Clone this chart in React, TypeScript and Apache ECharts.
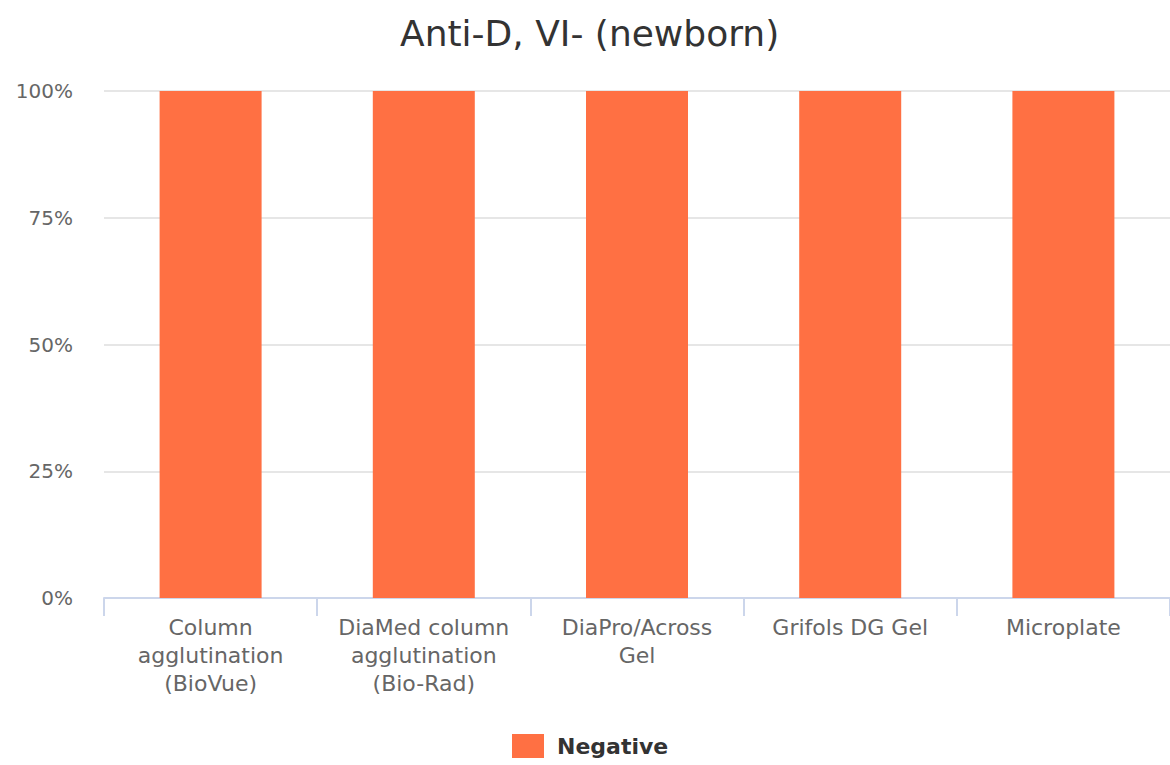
import React, { useEffect, useRef } from "react";
import * as echarts from "echarts";

const categories = [
  "Column\nagglutination\n(BioVue)",
  "DiaMed column\nagglutination\n(Bio-Rad)",
  "DiaPro/Across\nGel",
  "Grifols DG Gel",
  "Microplate",
];
const negativeValues = [100, 100, 100, 100, 100];
const seriesName = "Negative";
const titleText = "Anti-D, VI- (newborn)";
const yTicks = [0, 25, 50, 75, 100];

export default function App() {
  const ref = useRef<HTMLDivElement>(null);
  useEffect(() => {
    const chart = echarts.init(ref.current!, null, { renderer: "svg" });
    const font = "DejaVu Sans";
    chart.setOption({
      animation: false,
      backgroundColor: "#ffffff",
      title: {
        text: titleText,
        left: 400,
        top: 15,
        padding: 0,
        textStyle: { fontFamily: font, fontSize: 36, fontWeight: "normal", color: "#333333" },
      },
      legend: {
        data: [seriesName],
        bottom: 7,
        left: 512,
        padding: 0,
        itemWidth: 32,
        itemHeight: 24,
        itemGap: 10,
        icon: "rect",
        textStyle: {
          fontFamily: font,
          fontSize: 22,
          fontWeight: "bold",
          color: "#333333",
          padding: [0, 0, 0, 8],
        },
      },
      grid: { left: 104, right: -3, top: 91, bottom: 167, containLabel: false },
      xAxis: {
        type: "category",
        data: categories,
        axisLine: { lineStyle: { color: "#ccd6eb", width: 2 } },
        axisTick: { show: true, length: 18, lineStyle: { color: "#ccd6eb", width: 2 } },
        axisLabel: {
          fontFamily: font,
          fontSize: 22,
          color: "#666666",
          lineHeight: 28,
          margin: 15,
          interval: 0,
        },
      },
      yAxis: {
        type: "value",
        min: 0,
        max: 100,
        interval: 25,
        axisLabel: {
          fontFamily: font,
          fontSize: 20,
          color: "#666666",
          margin: 31,
          formatter: (v: number) => (yTicks.includes(v) ? v + "%" : ""),
        },
        splitLine: { lineStyle: { color: "#e6e6e6", width: 2 } },
        axisLine: { show: false },
        axisTick: { show: false },
      },
      series: [
        {
          name: seriesName,
          type: "bar",
          data: negativeValues,
          barWidth: 102,
          itemStyle: { color: "#ff7043" },
        },
      ],
    });
    return () => chart.dispose();
  }, []);
  return (
    <div
      ref={ref}
      style={{ position: "fixed", left: 0, top: 0, width: 1170, height: 765 }}
    />
  );
}
